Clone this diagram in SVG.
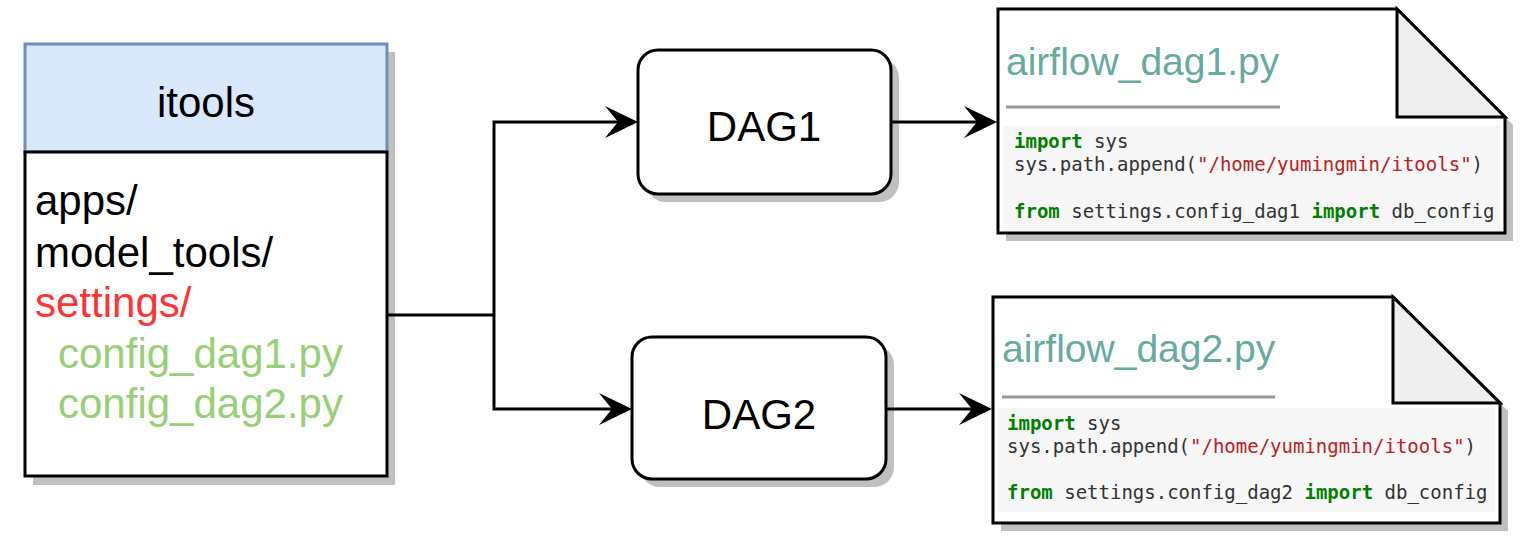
<svg xmlns="http://www.w3.org/2000/svg" width="1521" height="540" viewBox="0 0 1521 540">
<defs>
<style>
.sh{fill:#c0c0c0;stroke:none}
.box{fill:#ffffff;stroke:#000;stroke-width:3}
.hdr{fill:#dae8fc;stroke:#6c8ebf;stroke-width:3}
.lbl{font-family:"Liberation Sans",Arial,sans-serif;font-size:42px;fill:#000}
.ttl{font-family:"Liberation Sans",Arial,sans-serif;font-size:39px;fill:#67ab9f}
.code{font-family:"DejaVu Sans Mono","Liberation Mono",monospace;font-size:19px;fill:#333}
.kw{fill:#008000;font-weight:bold}
.str{fill:#ba2121}
.cbg{fill:#f7f7f7;stroke:none}
.fold{fill:#efefef;stroke:#000;stroke-width:3;stroke-linejoin:miter}
.rule{stroke:#999;stroke-width:3}
.conn{fill:none;stroke:#000;stroke-width:3}
</style>
<marker id="arr" markerUnits="userSpaceOnUse" viewBox="-15 -18 38 36" markerWidth="38" markerHeight="36" refX="0" refY="0" orient="auto">
<path d="M20,0 L-13,-16 L0,0 L-13,16 Z" fill="#000"/>
</marker>
</defs>

<g id="itools">
<rect class="sh" x="33" y="52" width="362" height="433"/>
<rect class="hdr" x="25" y="44" width="362" height="108"/>
<rect class="box" x="25" y="152" width="362" height="324"/>
<text class="lbl" x="206" y="117" text-anchor="middle">itools</text>
<text class="lbl" x="35" y="215">apps/</text>
<text class="lbl" x="35" y="267">model_tools/</text>
<text class="lbl" x="35" y="317" style="fill:#ff3333">settings/</text>
<text class="lbl" x="58" y="368" style="fill:#97d077">config_dag1.py</text>
<text class="lbl" x="58" y="418" style="fill:#97d077">config_dag2.py</text>
</g>

<g id="dag1">
<rect class="sh" x="646" y="58" width="253" height="144" rx="20"/>
<rect class="box" x="638" y="50" width="253" height="144" rx="20"/>
<text class="lbl" x="764" y="141" text-anchor="middle">DAG1</text>
</g>

<g id="dag2">
<rect class="sh" x="640" y="345" width="254" height="142" rx="20"/>
<rect class="box" x="632" y="337" width="254" height="142" rx="20"/>
<text class="lbl" x="759" y="429" text-anchor="middle">DAG2</text>
</g>

<g id="doc1">
<path class="sh" d="M1006,17 H1405 L1513,125 V241 H1006 Z"/>
<path class="box" d="M998,9 H1397 L1505,117 V233 H998 Z"/>
<path class="fold" d="M1397,9 V117 H1505 Z"/>
<text class="ttl" x="1006" y="75">airflow_dag1.py</text>
<line class="rule" x1="1006" y1="107" x2="1280" y2="107"/>
<rect class="cbg" x="1003" y="126" width="497" height="105"/>
<text class="code" x="1014" y="148"><tspan class="kw">import</tspan> sys</text>
<text class="code" x="1014" y="171">sys.path.append(<tspan class="str">"/home/yumingmin/itools"</tspan>)</text>
<text class="code" x="1014" y="218"><tspan class="kw">from</tspan> settings.config_dag1 <tspan class="kw">import</tspan> db_config</text>
</g>

<g id="doc2">
<path class="sh" d="M1001,305 H1401 L1508,411 V531 H1001 Z"/>
<path class="box" d="M993,297 H1393 L1500,403 V523 H993 Z"/>
<path class="fold" d="M1393,297 V403 H1500 Z"/>
<text class="ttl" x="1002" y="362">airflow_dag2.py</text>
<line class="rule" x1="1002" y1="397" x2="1275" y2="397"/>
<rect class="cbg" x="998" y="408" width="497" height="104"/>
<text class="code" x="1007" y="430"><tspan class="kw">import</tspan> sys</text>
<text class="code" x="1007" y="453">sys.path.append(<tspan class="str">"/home/yumingmin/itools"</tspan>)</text>
<text class="code" x="1007" y="499"><tspan class="kw">from</tspan> settings.config_dag2 <tspan class="kw">import</tspan> db_config</text>
</g>

<g id="connectors">
<path class="conn" d="M387,315 H494"/>
<path class="conn" d="M494,315 V122 H618" marker-end="url(#arr)"/>
<path class="conn" d="M494,315 V409 H612" marker-end="url(#arr)"/>
<path class="conn" d="M891,122 H977" marker-end="url(#arr)"/>
<path class="conn" d="M886,409 H972" marker-end="url(#arr)"/>
</g>
</svg>
